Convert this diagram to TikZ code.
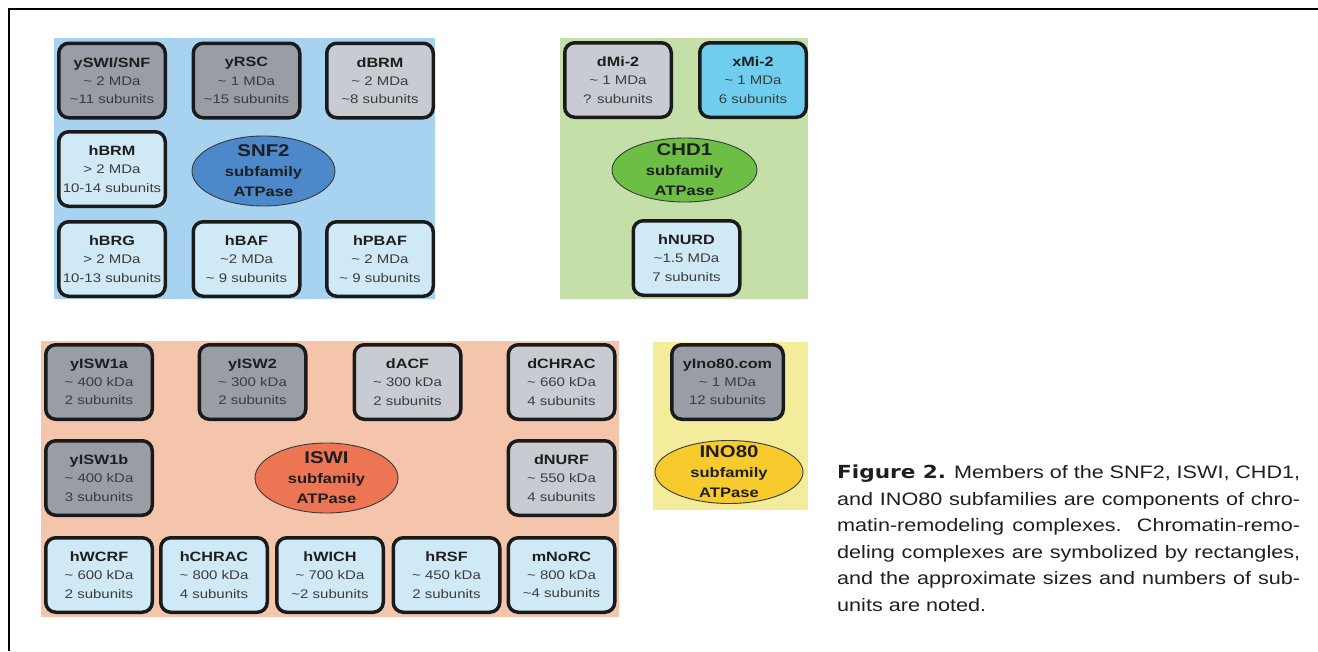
\documentclass[tikz,border=0pt]{standalone}
\usepackage{fontspec}
\setmainfont[FakeStretch=1.2]{Liberation Sans}
\newfontfamily\figfont[FakeStretch=1.2]{DejaVu Sans}
\usepackage{xcolor}
\usetikzlibrary{shapes.geometric}
\definecolor{ink}{HTML}{1E1E1E}
\definecolor{subtxt}{HTML}{3C3C3C}
\definecolor{boxline}{HTML}{1A1A1A}
\definecolor{ringline}{HTML}{3A3A3A}
\definecolor{snfbg}{HTML}{A7D3F0}
\definecolor{chdbg}{HTML}{C5DFA9}
\definecolor{iswbg}{HTML}{F4C5AB}
\definecolor{inobg}{HTML}{F2EC9B}
\definecolor{darkgrey}{HTML}{989DA6}
\definecolor{lightgrey}{HTML}{C9CBD3}
\definecolor{paleblue}{HTML}{CFE9F6}
\definecolor{cyanbox}{HTML}{6FCDEE}
\definecolor{snfring}{HTML}{4C88CA}
\definecolor{chdring}{HTML}{6DBE45}
\definecolor{iswring}{HTML}{EE7554}
\definecolor{inoring}{HTML}{F7CB2D}
\newcommand{\cname}[1]{{\fontsize{13.5}{18.3}\selectfont\bfseries\textcolor{ink}{#1}}}

\begin{document}
\begin{tikzpicture}[x=1pt, y=-1pt,
    every node/.style={font=\fontsize{12.5}{18.3}\selectfont},
    cplx/.style={rectangle, rounded corners=10pt, draw=boxline, line width=3.5pt, minimum width=106.5pt, minimum height=74.5pt, inner sep=0pt, align=center, text=subtxt},
    darkc/.style={cplx, fill=darkgrey},
    lightc/.style={cplx, fill=lightgrey},
    humanc/.style={cplx, fill=paleblue},
    atpase/.style={ellipse, draw=ringline, line width=0.9pt, inner sep=0pt},
    atext/.style={align=center, inner sep=0pt, text=ink, font=\fontsize{13.8}{20}\selectfont\bfseries},
    capt/.style={align=left, inner sep=0pt, text=ink, font=\fontsize{18}{26.5}\selectfont}
]
\useasboundingbox (0,0) rectangle (1318,651);

% Frame
\draw[line width=2.2pt] (9,651) -- (9,9) -- (1318,9);

% Subfamily panels
\fill[snfbg] (54,38) rectangle (435,299);
\fill[chdbg] (560,38) rectangle (808,299);
\fill[iswbg] (41,341) rectangle (619,617);
\fill[inobg] (653,342) rectangle (808,510);

% SNF2 subfamily
\node[darkc]  (yswi)  at (112,80.5)  {\cname{ySWI/SNF}\\\textasciitilde{} 2 MDa\\\textasciitilde11 subunits};
\node[darkc]  (yrsc)  at (246.5,80.5) {\cname{yRSC}\\\textasciitilde{} 1 MDa\\\textasciitilde15 subunits};
\node[lightc] (dbrm)  at (380,80.5)  {\cname{dBRM}\\\textasciitilde{} 2 MDa\\\textasciitilde8 subunits};
\node[humanc] (hbrm)  at (112,169)   {\cname{hBRM}\\> 2 MDa\\10-14 subunits};
\node[humanc] (hbrg)  at (112,259)   {\cname{hBRG}\\> 2 MDa\\10-13 subunits};
\node[humanc] (hbaf)  at (246.5,259) {\cname{hBAF}\\\textasciitilde2 MDa\\\textasciitilde{} 9 subunits};
\node[humanc] (hpbaf) at (380,259)   {\cname{hPBAF}\\\textasciitilde{} 2 MDa\\\textasciitilde{} 9 subunits};
\node[atpase, fill=snfring, minimum width=143pt, minimum height=70pt] (snf) at (263.5,171) {};
\node[atext] (snflab) at (snf.center) {{\fontsize{17}{20}\selectfont SNF2}\\subfamily\\ATPase};

% CHD1 subfamily
\node[lightc] (dmi)   at (618,80)    {\cname{dMi-2}\\\textasciitilde{} 1 MDa\\? subunits};
\node[cplx, fill=cyanbox] (xmi) at (753,80) {\cname{xMi-2}\\\textasciitilde{} 1 MDa\\6 subunits};
\node[humanc] (hnurd) at (686.5,258) {\cname{hNURD}\\\textasciitilde1.5 MDa\\7 subunits};
\node[atpase, fill=chdring, minimum width=145pt, minimum height=64pt] (chd) at (684.5,170) {};
\node[atext] (chdlab) at (chd.center) {{\fontsize{17}{20}\selectfont CHD1}\\subfamily\\ATPase};

% ISWI subfamily
\node[darkc]  (yisa)   at (99,382)    {\cname{yISW1a}\\\textasciitilde{} 400 kDa\\2 subunits};
\node[darkc]  (yisb)   at (252.5,382) {\cname{yISW2}\\\textasciitilde{} 300 kDa\\2 subunits};
\node[lightc] (dacf)   at (407.5,382) {\cname{dACF}\\\textasciitilde{} 300 kDa\\2 subunits};
\node[lightc] (dchrac) at (561.5,382) {\cname{dCHRAC}\\\textasciitilde{} 660 kDa\\4 subunits};
\node[darkc]  (yisc)   at (99,478)    {\cname{yISW1b}\\\textasciitilde{} 400 kDa\\3 subunits};
\node[lightc] (dnurf)  at (561.5,478) {\cname{dNURF}\\\textasciitilde{} 550 kDa\\4 subunits};
\node[humanc] (hwcrf)  at (99,575)    {\cname{hWCRF}\\\textasciitilde{} 600 kDa\\2 subunits};
\node[humanc] (hchrac) at (214,575)   {\cname{hCHRAC}\\\textasciitilde{} 800 kDa\\4 subunits};
\node[humanc] (hwich)  at (330,575)   {\cname{hWICH}\\\textasciitilde{} 700 kDa\\\textasciitilde2 subunits};
\node[humanc] (hrsf)   at (446.5,575) {\cname{hRSF}\\\textasciitilde{} 450 kDa\\2 subunits};
\node[humanc] (mnorc)  at (561.5,575) {\cname{mNoRC}\\\textasciitilde{} 800 kDa\\\textasciitilde4 subunits};
\node[atpase, fill=iswring, minimum width=143pt, minimum height=70pt] (isw) at (326.5,478) {};
\node[atext] (iswlab) at (isw.center) {{\fontsize{17}{20}\selectfont ISWI}\\subfamily\\ATPase};

% INO80 subfamily
\node[darkc, minimum width=111.5pt] (yino) at (727.5,382) {\cname{yIno80.com}\\\textasciitilde{} 1 MDa\\12 subunits};
\node[atpase, fill=inoring, minimum width=148pt, minimum height=63pt] (ino) at (729,472) {};
\node[atext] (inolab) at (ino.center) {{\fontsize{17}{20}\selectfont INO80}\\subfamily\\ATPase};

% Caption
\node[capt, anchor=north west] (caption) at (837,465) {%
\makebox[463pt][s]{{\figfont\bfseries Figure 2.} Members of the SNF2, ISWI, CHD1,}\\
\makebox[463pt][s]{and INO80 subfamilies are components of chro-}\\
\makebox[463pt][s]{matin-remodeling complexes. Chromatin-remo-}\\
\makebox[463pt][s]{deling complexes are symbolized by rectangles,}\\
\makebox[463pt][s]{and the approximate sizes and numbers of sub-}\\
units are noted.};
\end{tikzpicture}
\end{document}
